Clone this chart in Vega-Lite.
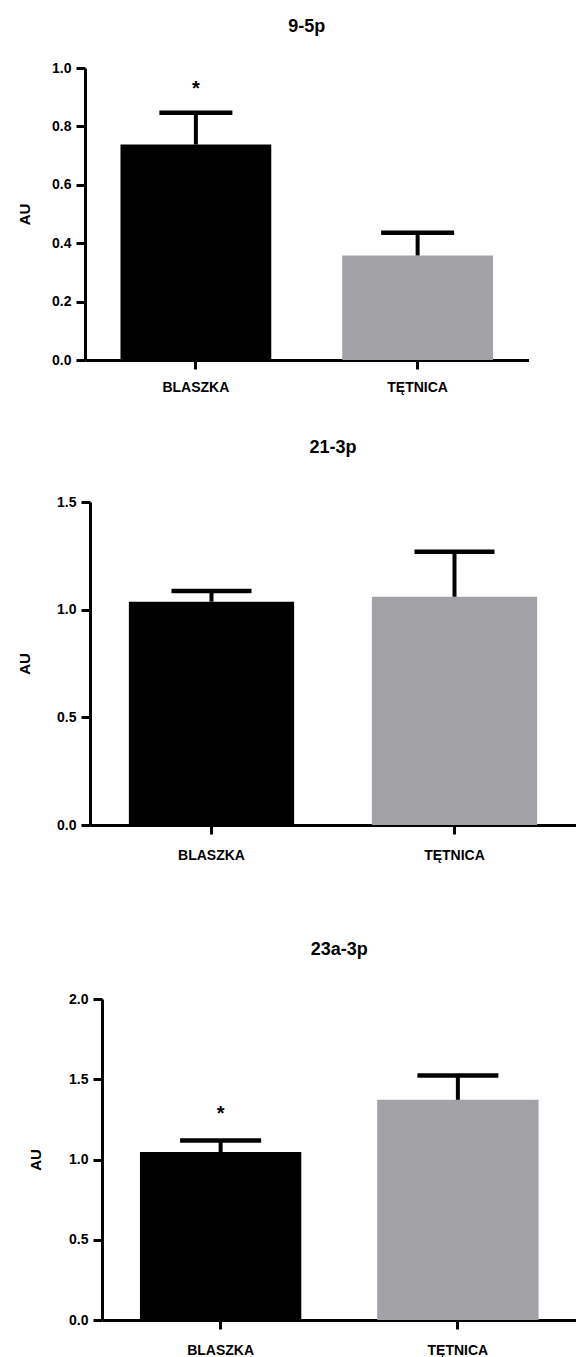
{
  "$schema": "https://vega.github.io/schema/vega-lite/v6.json",
  "padding": {"left": 5, "top": 18, "right": 0, "bottom": 0},
  "background": "white",
  "datasets": {
    "d": [
      {"panel": "9-5p", "grupa": "BLASZKA", "srednia": 0.738, "gorny": 0.847, "gwiazdka": "*"},
      {"panel": "9-5p", "grupa": "TĘTNICA", "srednia": 0.358, "gorny": 0.436, "gwiazdka": ""},
      {"panel": "21-3p", "grupa": "BLASZKA", "srednia": 1.037, "gorny": 1.087, "gwiazdka": ""},
      {"panel": "21-3p", "grupa": "TĘTNICA", "srednia": 1.06, "gorny": 1.269, "gwiazdka": ""},
      {"panel": "23a-3p", "grupa": "BLASZKA", "srednia": 1.046, "gorny": 1.119, "gwiazdka": "*"},
      {"panel": "23a-3p", "grupa": "TĘTNICA", "srednia": 1.372, "gorny": 1.523, "gwiazdka": ""}
    ]
  },
  "vconcat": [
    {
      "hconcat": [
        {"width": 4.5, "height": 1, "data": {"values": []}, "mark": {"type": "point", "opacity": 0}},
        {
          "title": {"text": "9-5p", "offset": 25},
          "width": 443.5,
          "height": 292,
          "data": {"name": "d"},
          "transform": [{"filter": "datum.panel == '9-5p'"}],
          "encoding": {
            "x": {"field": "grupa", "type": "nominal", "sort": ["BLASZKA", "TĘTNICA"],
                  "scale": {"paddingInner": 0.32, "paddingOuter": 0.16},
                  "axis": {"title": null, "labelPadding": 11, "minExtent": 59}},
            "y": {"field": "srednia", "type": "quantitative", "title": "AU",
                  "scale": {"domain": [0, 1], "nice": false},
                  "axis": {"values": [0, 0.2, 0.4, 0.6, 0.8, 1], "format": ".1f", "labelPadding": 5, "minExtent": 75, "titleX": -60.5, "titleBaseline": "middle"}}
          },
          "layer": [
            {"mark": {"type": "bar"},
             "encoding": {"color": {"field": "grupa", "type": "nominal", "legend": null,
                                    "scale": {"domain": ["BLASZKA", "TĘTNICA"], "range": ["#000000", "#a2a1a6"]}}}},
            {"mark": {"type": "rule", "strokeWidth": 4, "color": "#000000"},
             "encoding": {"y2": {"field": "gorny"}}},
            {"mark": {"type": "tick", "size": 73, "thickness": 4.5, "color": "#000000", "opacity": 1},
             "encoding": {"y": {"field": "gorny", "type": "quantitative", "title": "AU"}}},
            {"transform": [{"filter": "datum.gwiazdka != ''"}],
             "mark": {"type": "text", "dy": -18, "fontSize": 20, "fontWeight": "bold", "baseline": "alphabetic", "color": "#000000"},
             "encoding": {"y": {"field": "gorny", "type": "quantitative", "title": "AU"}, "text": {"field": "gwiazdka"}}}
          ]
        }
      ],
      "spacing": 0
    },
    {
      "hconcat": [
        {"width": 10, "height": 1, "data": {"values": []}, "mark": {"type": "point", "opacity": 0}},
        {
          "title": {"text": "21-3p", "offset": 38},
          "width": 486,
          "height": 323,
          "data": {"name": "d"},
          "transform": [{"filter": "datum.panel == '21-3p'"}],
          "encoding": {
            "x": {"field": "grupa", "type": "nominal", "sort": ["BLASZKA", "TĘTNICA"],
                  "scale": {"paddingInner": 0.32, "paddingOuter": 0.16},
                  "axis": {"title": null, "labelPadding": 14, "minExtent": 96}},
            "y": {"field": "srednia", "type": "quantitative", "title": "AU",
                  "scale": {"domain": [0, 1.5], "nice": false},
                  "axis": {"values": [0, 0.5, 1, 1.5], "format": ".1f", "labelPadding": 5, "minExtent": 75, "titleX": -66, "titleBaseline": "middle"}}
          },
          "layer": [
            {"mark": {"type": "bar"},
             "encoding": {"color": {"field": "grupa", "type": "nominal", "legend": null,
                                    "scale": {"domain": ["BLASZKA", "TĘTNICA"], "range": ["#000000", "#a2a1a6"]}}}},
            {"mark": {"type": "rule", "strokeWidth": 4, "color": "#000000"},
             "encoding": {"y2": {"field": "gorny"}}},
            {"mark": {"type": "tick", "size": 80, "thickness": 4.5, "color": "#000000", "opacity": 1},
             "encoding": {"y": {"field": "gorny", "type": "quantitative", "title": "AU"}}}
          ]
        }
      ],
      "spacing": 0
    },
    {
      "hconcat": [
        {"width": 21.5, "height": 1, "data": {"values": []}, "mark": {"type": "point", "opacity": 0}},
        {
          "title": {"text": "23a-3p", "offset": 33},
          "width": 474.5,
          "height": 321,
          "data": {"name": "d"},
          "transform": [{"filter": "datum.panel == '23a-3p'"}],
          "encoding": {
            "x": {"field": "grupa", "type": "nominal", "sort": ["BLASZKA", "TĘTNICA"],
                  "scale": {"paddingInner": 0.32, "paddingOuter": 0.16},
                  "axis": {"title": null, "labelPadding": 14}},
            "y": {"field": "srednia", "type": "quantitative", "title": "AU",
                  "scale": {"domain": [0, 2], "nice": false},
                  "axis": {"values": [0, 0.5, 1, 1.5, 2], "format": ".1f", "labelPadding": 5, "minExtent": 75, "titleX": -66.5, "titleBaseline": "middle"}}
          },
          "layer": [
            {"mark": {"type": "bar"},
             "encoding": {"color": {"field": "grupa", "type": "nominal", "legend": null,
                                    "scale": {"domain": ["BLASZKA", "TĘTNICA"], "range": ["#000000", "#a2a1a6"]}}}},
            {"mark": {"type": "rule", "strokeWidth": 4, "color": "#000000"},
             "encoding": {"y2": {"field": "gorny"}}},
            {"mark": {"type": "tick", "size": 81, "thickness": 4.5, "color": "#000000", "opacity": 1},
             "encoding": {"y": {"field": "gorny", "type": "quantitative", "title": "AU"}}},
            {"transform": [{"filter": "datum.gwiazdka != ''"}],
             "mark": {"type": "text", "dy": -20, "fontSize": 20, "fontWeight": "bold", "baseline": "alphabetic", "color": "#000000"},
             "encoding": {"y": {"field": "gorny", "type": "quantitative", "title": "AU"}, "text": {"field": "gwiazdka"}}}
          ]
        }
      ],
      "spacing": 0
    }
  ],
  "spacing": 20,
  "align": "none",
  "config": {
    "font": "Liberation Sans",
    "view": {"stroke": null},
    "axis": {
      "domainColor": "#000000", "domainWidth": 3, "tickColor": "#000000", "tickWidth": 3, "tickSize": 9,
      "labelFont": "Liberation Sans", "labelFontWeight": "bold", "labelFontSize": 14, "labelColor": "#000000",
      "grid": false, "titleColor": "#000000", "titleFontWeight": "bold", "titleFontSize": 15, "titleFont": "Liberation Sans"
    },
    "axisX": {"labelAngle": 0},
    "title": {"fontSize": 18, "fontWeight": "bold", "color": "#000000", "font": "Liberation Sans"}
  }
}
